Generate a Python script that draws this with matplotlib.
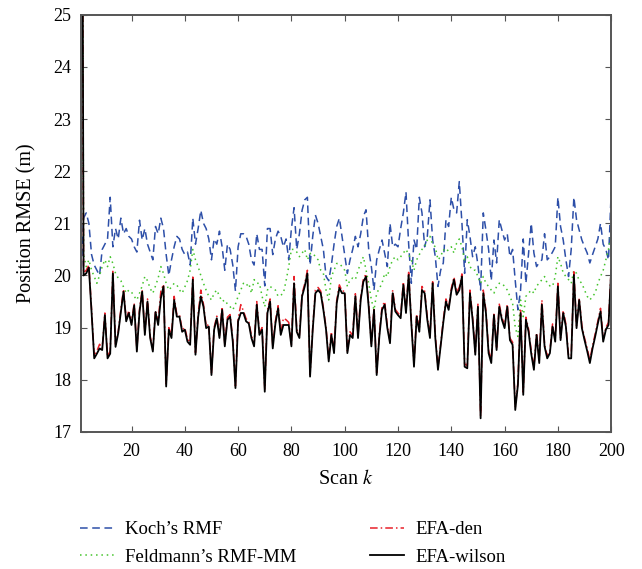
import numpy as np
import matplotlib
matplotlib.use("Agg")
import matplotlib.pyplot as plt

plt.rcParams['font.family'] = ['Liberation Serif', 'DejaVu Serif']
plt.rcParams['mathtext.fontset'] = 'stix'

# scan index
scans = np.arange(1, 201)

# Koch's RMF
koch = [
    19.9, 21.1, 21.2, 21.0, 20.4, 20.2, 20.1, 20.0, 20.5, 20.6,
    20.7, 21.5, 20.55, 20.9, 20.7, 21.1, 20.8, 20.9, 20.75, 20.7,
    20.55, 20.45, 21.06, 20.68, 20.9, 20.6, 20.45, 20.3, 20.94, 20.8,
    21.1, 20.9, 20.4, 20.0, 20.3, 20.55, 20.75, 20.7, 20.5, 20.4,
    20.45, 20.2, 21.1, 20.6, 20.9, 21.25, 21.0, 20.9, 20.7, 20.3,
    20.7, 20.6, 20.85, 20.55, 20.1, 20.6, 20.5, 20.2, 19.7, 20.55,
    20.8, 20.8, 20.75, 20.6, 20.3, 20.2, 20.8, 20.5, 20.5, 19.8,
    20.9, 20.9, 20.4, 20.7, 20.85, 20.75, 20.55, 20.7, 20.3, 20.9,
    21.3, 20.5, 20.8, 21.25, 21.45, 21.5, 20.2, 20.75, 21.16, 21.0,
    20.75, 20.5, 19.98, 19.9, 20.2, 20.6, 20.94, 21.1, 20.75, 20.4,
    20.04, 20.3, 20.5, 20.75, 20.55, 20.8, 21.13, 21.26, 20.5, 20.17,
    19.72, 20.3, 20.5, 20.68, 20.43, 20.17, 21.0, 20.55, 20.6, 20.55,
    20.9, 21.2, 21.6, 20.6, 19.85, 20.68, 20.5, 21.5, 21.2, 20.55,
    20.75, 21.45, 20.68, 20.36, 19.79, 20.1, 20.24, 21.07, 20.94, 21.5,
    21.26, 21.2, 21.8, 21.0, 20.04, 21.07, 20.75, 20.36, 20.55, 20.2,
    19.72, 21.2, 20.87, 20.5, 19.9, 20.68, 20.24, 21.07, 20.87, 20.68,
    20.8, 20.36, 20.5, 19.9, 19.34, 19.72, 20.7, 19.85, 20.43, 21.0,
    20.43, 20.17, 20.25, 20.3, 20.8, 20.3, 20.36, 20.45, 20.55, 21.5,
    20.94, 20.68, 20.3, 19.98, 20.5, 21.5, 21.07, 20.87, 20.68, 20.55,
    20.43, 20.24, 20.4, 20.55, 20.7, 21.0, 20.6, 20.5, 20.3, 21.6,
]

# Feldmann's RMF-MM
feldmann = [
    40, 20.4, 20.17, 20.3, 20.1, 19.98, 19.85, 20.0, 20.17, 20.3,
    20.17, 20.36, 20.23, 20.04, 19.95, 19.9, 19.78, 19.66, 19.72, 19.68,
    19.6, 19.53, 19.66, 19.8, 19.98, 19.9, 19.75, 19.66, 19.8, 19.95,
    20.17, 20.04, 19.85, 19.72, 19.78, 19.85, 19.82, 19.72, 19.66, 19.78,
    19.9, 20.1, 20.5, 20.3, 20.17, 20.0, 19.85, 19.72, 19.6, 19.53,
    19.66, 19.72, 19.6, 19.5, 19.53, 19.45, 19.4, 19.34, 19.45, 19.6,
    19.72, 19.85, 19.8, 19.85, 19.66, 19.92, 19.85, 19.85, 19.6, 19.4,
    19.72, 19.79, 19.75, 19.72, 19.6, 19.62, 19.66, 19.9, 20.17, 20.5,
    20.5, 20.45, 20.36, 20.43, 20.5, 20.3, 20.42, 20.43, 20.36, 20.3,
    20.1, 20.04, 19.72, 19.53, 19.98, 20.1, 20.23, 20.23, 20.17, 20.1,
    19.79, 19.92, 19.95, 19.92, 20.1, 20.23, 20.36, 20.1, 19.85, 19.53,
    19.34, 19.66, 19.75, 19.85, 20.04, 19.98, 20.17, 20.3, 20.36, 20.3,
    20.36, 20.43, 20.5, 20.4, 20.3, 20.1, 20.3, 20.4, 20.5, 20.55,
    20.68, 20.75, 20.6, 20.55, 20.3, 20.36, 20.5, 20.45, 20.5, 20.55,
    20.43, 20.62, 20.7, 20.55, 20.3, 20.36, 20.17, 20.1, 20.1, 19.98,
    19.85, 19.98, 19.85, 19.79, 19.72, 19.66, 19.79, 19.85, 19.85, 19.79,
    19.72, 19.6, 19.47, 19.0, 18.83, 19.53, 19.21, 19.6, 19.66, 19.72,
    19.66, 19.8, 19.85, 19.92, 19.98, 19.85, 19.8, 19.79, 19.98, 20.36,
    20.23, 20.05, 19.98, 19.92, 19.85, 20.1, 20.04, 19.9, 19.85, 19.72,
    19.6, 19.53, 19.6, 19.66, 19.85, 19.98, 20.1, 20.3, 20.5, 20.8,
]

# EFA-den
efa_den = [
    38, 20.05, 20.1, 20.2, 19.35, 18.45, 18.55, 18.68, 18.6, 19.28,
    18.45, 18.55, 20.08, 18.68, 18.92, 19.35, 19.74, 19.15, 19.33, 19.1,
    19.47, 18.58, 19.35, 19.73, 18.9, 19.55, 18.84, 18.58, 19.33, 19.1,
    19.7, 19.83, 17.92, 19.0, 18.85, 19.6, 19.25, 19.25, 18.96, 19.0,
    18.77, 18.72, 19.97, 18.52, 19.25, 19.72, 19.45, 19.03, 19.06, 18.13,
    19.0, 19.22, 18.85, 19.4, 18.68, 19.2, 19.25, 18.78, 17.88, 19.17,
    19.44, 19.32, 19.17, 19.12, 18.85, 18.68, 19.5, 18.9, 19.0, 17.82,
    19.33, 19.55, 18.65, 19.13, 19.42, 18.9, 19.18, 19.15, 19.1, 18.68,
    19.98, 18.97, 18.85, 19.65, 19.84, 20.1, 18.1, 19.0, 19.72, 19.77,
    19.7, 19.38, 19.0, 18.4, 18.92, 18.55, 19.52, 19.82, 19.7, 19.7,
    18.55, 18.92, 18.85, 19.65, 18.85, 19.58, 19.93, 20.03, 19.45, 18.68,
    19.38, 18.13, 18.88, 19.4, 19.5, 19.03, 18.75, 19.72, 19.35, 19.28,
    19.22, 19.88, 19.33, 20.06, 19.12, 18.3, 19.26, 18.97, 19.79, 19.7,
    19.2, 18.85, 19.88, 18.85, 18.24, 18.68, 19.15, 19.55, 19.38, 19.75,
    19.97, 19.68, 19.77, 20.03, 18.3, 18.27, 19.72, 19.2, 18.53, 19.45,
    17.3, 19.72, 19.33, 18.56, 18.37, 19.29, 18.62, 19.45, 19.2, 19.04,
    19.45, 18.8, 18.72, 17.47, 17.95, 19.33, 17.76, 19.2, 18.97, 18.55,
    18.24, 18.9, 18.37, 19.53, 18.68, 18.46, 18.56, 19.07, 18.78, 19.85,
    18.8, 19.33, 19.07, 18.46, 18.46, 20.07, 19.04, 19.56, 19.04, 18.8,
    18.6, 18.37, 18.65, 18.88, 19.13, 19.37, 18.78, 19.0, 19.1, 20.14,
]

# EFA-wilson
efa_wilson = [
    38, 20.0, 20.04, 20.15, 19.3, 18.41, 18.5, 18.6, 18.57, 19.24,
    18.41, 18.5, 20.04, 18.63, 18.89, 19.3, 19.69, 19.12, 19.28, 19.05,
    19.43, 18.54, 19.3, 19.69, 18.86, 19.5, 18.8, 18.54, 19.3, 19.05,
    19.56, 19.79, 17.87, 18.96, 18.8, 19.53, 19.21, 19.21, 18.92, 18.96,
    18.73, 18.67, 19.92, 18.48, 19.2, 19.6, 19.4, 18.99, 19.02, 18.09,
    18.96, 19.18, 18.8, 19.34, 18.64, 19.15, 19.21, 18.73, 17.84, 19.12,
    19.28, 19.28, 19.12, 19.08, 18.8, 18.64, 19.44, 18.86, 18.96, 17.77,
    19.28, 19.5, 18.6, 19.08, 19.37, 18.86, 19.05, 19.05, 19.05, 18.64,
    19.85, 18.92, 18.8, 19.6, 19.79, 20.04, 18.06, 18.96, 19.66, 19.72,
    19.66, 19.34, 18.96, 18.35, 18.86, 18.51, 19.47, 19.76, 19.66, 19.66,
    18.51, 18.86, 18.8, 19.6, 18.8, 19.53, 19.88, 19.98, 19.4, 18.64,
    19.34, 18.09, 18.83, 19.34, 19.44, 18.99, 18.7, 19.66, 19.31, 19.24,
    19.18, 19.82, 19.28, 20.01, 19.08, 18.25, 19.21, 18.92, 19.72, 19.66,
    19.15, 18.8, 19.85, 18.8, 18.19, 18.64, 19.1, 19.5, 19.34, 19.7,
    19.92, 19.63, 19.72, 19.98, 18.25, 18.22, 19.66, 19.15, 18.48, 19.4,
    17.26, 19.66, 19.28, 18.51, 18.32, 19.24, 18.57, 19.4, 19.15, 18.99,
    19.4, 18.76, 18.67, 17.42, 17.9, 19.28, 17.71, 19.15, 18.92, 18.5,
    18.19, 18.86, 18.32, 19.44, 18.64, 18.41, 18.51, 19.02, 18.73, 19.79,
    18.76, 19.28, 19.02, 18.41, 18.41, 20.01, 18.99, 19.53, 18.99, 18.76,
    18.55, 18.32, 18.6, 18.83, 19.08, 19.31, 18.73, 18.96, 19.05, 20.1,
]

xticks = [20, 40, 60, 80, 100, 120, 140, 160, 180, 200]
yticks = [17, 18, 19, 20, 21, 22, 23, 24, 25]

fig = plt.figure(figsize=(6.42, 5.69), dpi=100)
ax = fig.add_axes([0.126, 0.241, 0.826, 0.733])

ax.plot(scans, koch, color='#2d4fa8', lw=1.1, dashes=(5, 3), label="Koch’s RMF")
ax.plot(scans, feldmann, color='#44c42c', lw=1.1, dashes=(1, 2.5), label="Feldmann’s RMF-MM")
ax.plot(scans, efa_den, color='#e8202a', lw=1.1, dashes=(5, 2, 1, 2), label='EFA-den')
ax.plot(scans, efa_wilson, color='black', lw=1.3, label='EFA-wilson')

ax.set_xlim(1, 200)
ax.set_ylim(17, 25)
ax.set_xticks(xticks)
ax.set_yticks(yticks)
ax.tick_params(direction='in', top=True, right=True, labelsize=13, length=4, color='#555555')
ax.tick_params(axis='x', pad=8)
ax.tick_params(axis='y', pad=7)
for s in ax.spines.values():
    s.set_color('#555555')
    s.set_linewidth(1.4)

ax.set_xlabel('Scan $k$', fontsize=14.5, labelpad=7)
ax.set_ylabel('Position RMSE (m)', fontsize=14.5, labelpad=12)

fig.legend(*ax.get_legend_handles_labels(), loc='upper left',
           bbox_to_anchor=(80 / 642, 1 - 521 / 569), ncol=2, frameon=False,
           fontsize=13.5, handlelength=1.8, columnspacing=3.9, labelspacing=0.55,
           handletextpad=0.62, borderpad=0, borderaxespad=0)

fig.savefig('out.png', dpi=100)
